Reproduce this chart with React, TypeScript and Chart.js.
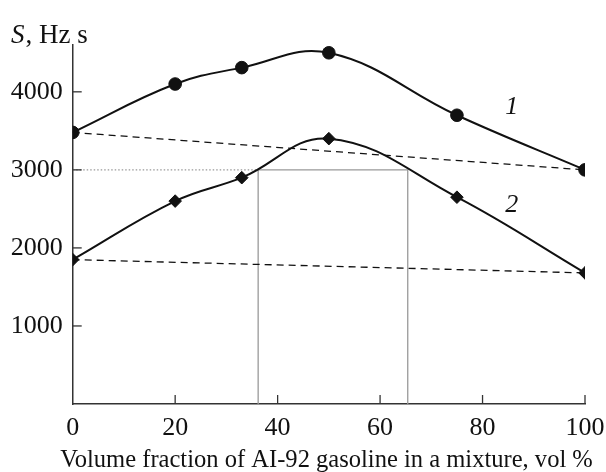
import React, { useEffect, useRef } from "react";
import { Chart, registerables } from "chart.js";

Chart.register(...registerables);

// ---- data ----
const xValues = [0, 20, 33, 50, 75, 100];
const series1 = [3480, 4100, 4310, 4500, 3700, 3000];
const series2 = [1850, 2600, 2900, 3400, 2650, 1680];
const baseline1 = [3480, 3000]; // dashed additive line, x = 0 and 100
const baseline2 = [1850, 1680];
const baselineX = [0, 100];
const refLevel = 3000;
const refX = [36.2, 65.4];
const xTicks = [0, 20, 40, 60, 80, 100];
const yTicks = [1000, 2000, 3000, 4000];
const innerXTicks = [20, 40, 60, 80, 100];
const curveLabels = [
  { text: "1", x: 85.7, y: 3800 },
  { text: "2", x: 85.7, y: 2550 },
];
const xTitle = "Volume fraction of AI-92 gasoline in a mixture, vol %";

const FONT = "'Liberation Serif', 'Times New Roman', serif";
const INK = "#111";
const GRAY = "#999";

const decorPlugin = {
  id: "decor",
  afterDatasetsDraw(chart: any) {
    const { ctx } = chart;
    const xs = chart.scales.x;
    const ys = chart.scales.y;
    ctx.save();
    // inward tick marks
    ctx.strokeStyle = "#333";
    ctx.lineWidth = 1.3;
    const tickLen = 9;
    innerXTicks.forEach((v) => {
      const px = xs.getPixelForValue(v);
      ctx.beginPath();
      ctx.moveTo(px, ys.bottom);
      ctx.lineTo(px, ys.bottom - tickLen);
      ctx.stroke();
    });
    yTicks.forEach((v) => {
      const py = ys.getPixelForValue(v);
      ctx.beginPath();
      ctx.moveTo(xs.left, py);
      ctx.lineTo(xs.left + tickLen, py);
      ctx.stroke();
    });
    // curve labels
    ctx.fillStyle = INK;
    ctx.font = `italic 26px ${FONT}`;
    ctx.textAlign = "center";
    ctx.textBaseline = "middle";
    curveLabels.forEach((l) => {
      ctx.fillText(l.text, xs.getPixelForValue(l.x), ys.getPixelForValue(l.y));
    });
    // x axis title (drawn here so it may be wider than the axis)
    ctx.font = `25px ${FONT}`;
    const w = ctx.measureText(xTitle).width;
    const size = (25 * 533) / w;
    ctx.font = `${size.toFixed(2)}px ${FONT}`;
    ctx.fillText(xTitle, 326.5, 461);
    // y axis title
    ctx.textAlign = "left";
    ctx.textBaseline = "alphabetic";
    ctx.font = `italic 27px ${FONT}`;
    ctx.fillText("S", 11, 43);
    const sW = ctx.measureText("S").width;
    ctx.font = `27px ${FONT}`;
    ctx.fillText(", Hz s", 11 + sW + 1, 43);
    ctx.restore();
  },
};

export default function App() {
  const ref = useRef<HTMLCanvasElement | null>(null);
  useEffect(() => {
    if (!ref.current) return;
    const pts = (xsArr: number[], ysArr: number[]) =>
      xsArr.map((x, i) => ({ x, y: ysArr[i] }));
    const chart = new Chart(ref.current, {
      type: "line",
      data: {
        datasets: [
          {
            data: pts(xValues, series1),
            borderColor: INK,
            borderWidth: 2,
            backgroundColor: INK,
            pointStyle: "circle",
            pointRadius: 6.3,
            pointBorderWidth: 1,
            pointBorderColor: INK,
            tension: 0.4,
          },
          {
            data: pts(xValues, series2),
            borderColor: INK,
            borderWidth: 2,
            backgroundColor: INK,
            pointStyle: "rectRot",
            pointRadius: 6.3,
            pointBorderWidth: 1,
            pointBorderColor: INK,
            tension: 0.4,
          },
          {
            data: pts(baselineX, baseline1),
            borderColor: INK,
            borderWidth: 1.3,
            borderDash: [7, 5],
            pointRadius: 0,
          },
          {
            data: pts(baselineX, baseline2),
            borderColor: INK,
            borderWidth: 1.3,
            borderDash: [7, 5],
            pointRadius: 0,
          },
          {
            data: [
              { x: 0, y: refLevel },
              { x: refX[0], y: refLevel },
            ],
            borderColor: GRAY,
            borderWidth: 1.3,
            borderDash: [1.5, 2],
            pointRadius: 0,
          },
          {
            data: [
              { x: refX[0], y: 0 },
              { x: refX[0], y: refLevel },
              { x: refX[1], y: refLevel },
              { x: refX[1], y: 0 },
            ],
            borderColor: GRAY,
            borderWidth: 1.3,
            pointRadius: 0,
          },
        ],
      },
      options: {
        animation: false,
        responsive: false,
        layout: { padding: { top: 45, right: 21, left: 0, bottom: 0 } },
        plugins: { legend: { display: false }, tooltip: { enabled: false } },
        scales: {
          x: {
            type: "linear",
            min: 0,
            max: 100,
            afterBuildTicks: (s: any) => {
              s.ticks = xTicks.map((v) => ({ value: v }));
            },
            afterFit: (s: any) => {
              s.height = 68;
              s.paddingLeft = 0;
              s.paddingRight = 0;
            },
            grid: { display: false, drawTicks: false },
            border: { display: true, color: "#333", width: 1.5 },
            ticks: {
              padding: 9,
              color: INK,
              maxRotation: 0,
              font: { family: FONT, size: 26 },
              callback: (v: any) => String(v),
            },
            title: { display: false },
          },
          y: {
            type: "linear",
            min: 0,
            max: 4600,
            afterBuildTicks: (s: any) => {
              s.ticks = yTicks.map((v) => ({ value: v }));
            },
            afterFit: (s: any) => {
              s.width = 72.7;
            },
            grid: { display: false, drawTicks: false },
            border: { display: true, color: "#333", width: 1.5 },
            ticks: {
              padding: 10,
              color: INK,
              font: { family: FONT, size: 26 },
              callback: (v: any) => String(v),
            },
          },
        },
      },
      plugins: [decorPlugin],
    } as any);
    return () => chart.destroy();
  }, []);
  return (
    <div style={{ position: "absolute", left: 0, top: 0, width: 606, height: 472, background: "#fff" }}>
      <canvas ref={ref} width={606} height={472} />
    </div>
  );
}
